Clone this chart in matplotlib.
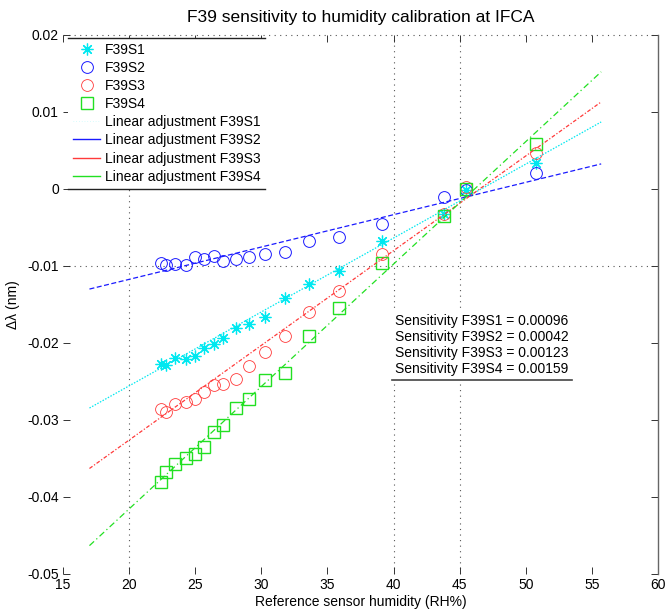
import matplotlib
matplotlib.use("Agg")
import matplotlib.pyplot as plt
import numpy as np
from matplotlib.lines import Line2D

plt.rcParams['font.family'] = ['Liberation Sans', 'DejaVu Sans']

# ---------------- data ----------------
humidity = [22.4, 22.8, 23.5, 24.3, 25.0, 25.7, 26.4, 27.1, 28.1, 29.1,
            30.3, 31.8, 33.6, 35.9, 39.1, 43.8, 45.5, 50.8]

f39s1 = [-0.0227, -0.0229, -0.0219, -0.0221, -0.0217, -0.0206, -0.0201, -0.0194, -0.0180, -0.0176,
         -0.0166, -0.0142, -0.0124, -0.0107, -0.0068, -0.0033, -0.0001, 0.0034]
f39s2 = [-0.0096, -0.0099, -0.0098, -0.0099, -0.0088, -0.0091, -0.0087, -0.0094, -0.0091, -0.0088,
         -0.0085, -0.0082, -0.0067, -0.0063, -0.0046, -0.0011, -0.0001, 0.0021]
f39s3 = [-0.0286, -0.0290, -0.0279, -0.0277, -0.0273, -0.0264, -0.0255, -0.0253, -0.0247, -0.0230,
         -0.0212, -0.0191, -0.0160, -0.0132, -0.0085, -0.0033, 0.0002, 0.0047]
f39s4 = [-0.0380, -0.0367, -0.0357, -0.0350, -0.0344, -0.0335, -0.0315, -0.0306, -0.0284, -0.0273,
         -0.0248, -0.0239, -0.0191, -0.0154, -0.0096, -0.0035, 0.0000, 0.0058]

series_names = ['F39S1', 'F39S2', 'F39S3', 'F39S4']
sensitivity = [0.00096, 0.00042, 0.00123, 0.00159]      # fitted slopes
intercepts = [-0.04477, -0.02014, -0.05721, -0.07335]   # fitted intercepts
fit_range = [17.0, 55.7]

x_ticks = [15, 20, 25, 30, 35, 40, 45, 50, 55, 60]
y_ticks = [-0.05, -0.04, -0.03, -0.02, -0.01, 0.0, 0.01, 0.02]
y_tick_labels = ['-0.05', '-0.04', '-0.03', '-0.02', '-0.01', '0', '0.01', '0.02']

# ---------------- styles ----------------
colors = ['#00e8f0', '#1a1aff', '#ff3a3a', '#22e022']
fit_styles = [(0, (1.2, 1.2)), (0, (4, 2)), (0, (3, 1.5, 1, 1.5)), (0, (5, 2.5, 1, 2.5))]

fig = plt.figure(figsize=(6.69, 6.11), dpi=100)
ax = fig.add_axes([0.0942, 0.0606, 0.8894, 0.8822])
ax.set_xlim(15, 60)
ax.set_ylim(-0.05, 0.02)

# partial dotted grid as seen in the reference
for gx in [20, 40, 45]:
    ax.axvline(gx, color='#555555', lw=0.8, ls=(0, (1, 4)), zorder=0)
for gy in [0.02, -0.01]:
    ax.axhline(gy, color='#555555', lw=0.8, ls=(0, (1, 4)), zorder=0, clip_on=False)

data = [f39s1, f39s2, f39s3, f39s4]
mk = [dict(marker=(8, 2, 0), ms=8.5, mew=0.9, mfc='none'),
      dict(marker='o', ms=8.5, mew=0.7, mfc='none'),
      dict(marker='o', ms=8.5, mew=0.6, mfc='none'),
      dict(marker='s', ms=8.5, mew=1.0, mfc='none')]

marker_handles = []
for i in range(4):
    h, = ax.plot(humidity, data[i], ls='none', color=colors[i], mec=colors[i], **mk[i])
    marker_handles.append(h)

xf = np.array(fit_range)
for i in range(4):
    ax.plot(xf, sensitivity[i] * xf + intercepts[i], color=colors[i], lw=0.9, ls=fit_styles[i])

fit_handles = [Line2D([], [], color=colors[0], lw=0.5, ls=(0, (1, 3)), alpha=0.3)]
for i in range(1, 4):
    fit_handles.append(Line2D([], [], color=colors[i], lw=1.0))

labels = series_names + ['Linear adjustment ' + n for n in series_names]
leg = ax.legend(marker_handles + fit_handles, labels, loc='upper left',
                bbox_to_anchor=(0.008, 0.995), borderaxespad=0, fontsize=10,
                labelspacing=0.3, handlelength=2.0, handletextpad=0.3,
                borderpad=0.35, frameon=True, fancybox=False)
leg.get_frame().set_edgecolor('none')
leg.get_frame().set_facecolor('white')
leg.get_frame().set_alpha(1)

txt = '\n'.join(f'Sensitivity {n} = {s:.5f}' for n, s in zip(series_names, sensitivity))
t = ax.text(0.558, 0.483, txt, transform=ax.transAxes, ha='left', va='top', fontsize=10,
            linespacing=1.2, bbox=dict(facecolor='white', edgecolor='none', pad=2.5), zorder=5)

ax.set_xticks(x_ticks)
ax.set_yticks(y_ticks)
ax.set_yticklabels(y_tick_labels)
ax.tick_params(direction='in', length=5, width=0.7, top=True, right=True,
               labelsize=10, color='#333333', pad=3)
for s in ['left', 'bottom', 'top']:
    ax.spines[s].set_visible(False)
ax.spines['right'].set_color('#666666')
ax.spines['right'].set_linewidth(1.0)

ax.set_title('F39 sensitivity to humidity calibration at IFCA', fontsize=12.5, pad=9)
ax.set_xlabel('Reference sensor humidity (RH%)', fontsize=10, labelpad=2)
ax.set_ylabel('Δλ (nm)', fontsize=10, labelpad=5)

# underline / overline for legend and text box, as in the reference
fig.canvas.draw()
inv = fig.transFigure.inverted()
bb = leg.get_window_extent()
for yy in [bb.y0, bb.y1]:
    (x0, y0), (x1, _) = inv.transform([(bb.x0, yy), (bb.x1, yy)])
    fig.add_artist(Line2D([x0, x1], [y0, y0], color='#222222', lw=1.0))
tb = t.get_bbox_patch().get_window_extent()
(x0, y0), (x1, _) = inv.transform([(tb.x0, tb.y0), (tb.x1, tb.y0)])
fig.add_artist(Line2D([x0, x1], [y0, y0], color='#444444', lw=1.2))

fig.savefig('out.png', dpi=100)
